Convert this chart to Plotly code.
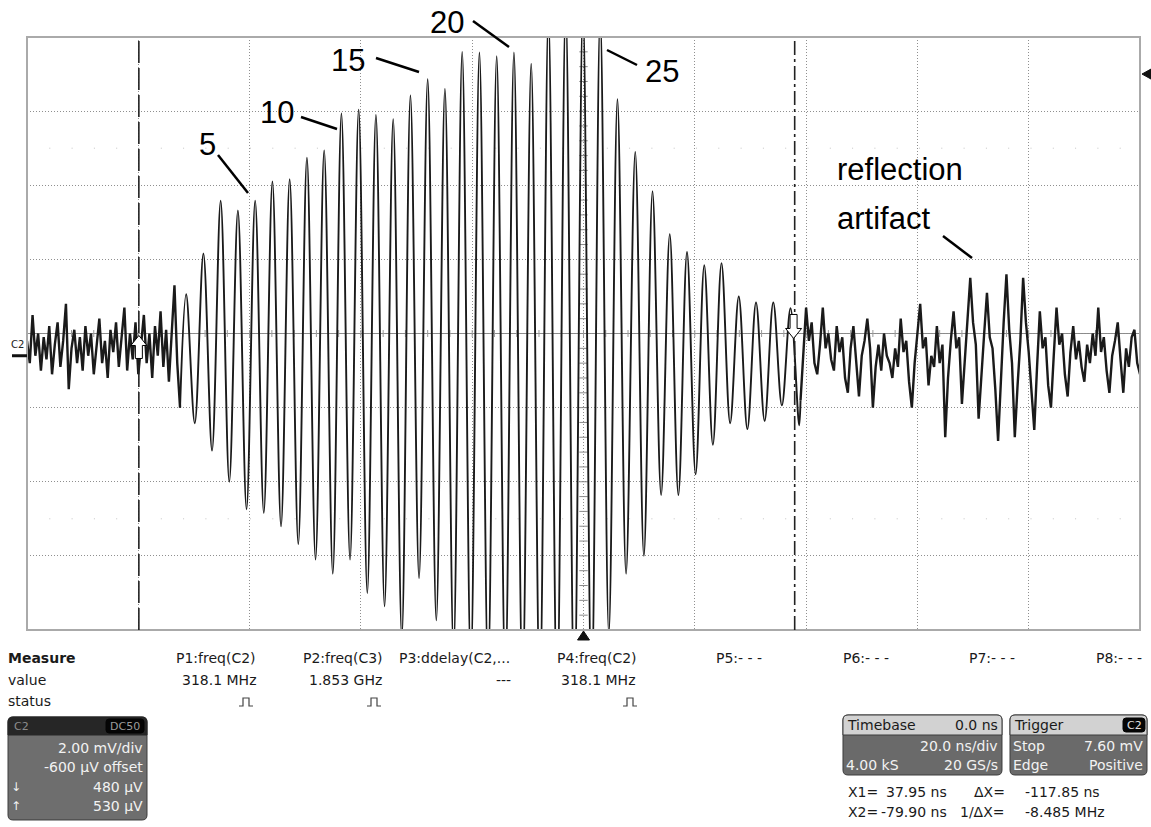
import plotly.graph_objects as go

# ---------------- data: channel C2 trace (time in ns, signal in mV) ----------------
pre_t = [-100.0, -99.5, -99.0, -98.5, -98.0, -97.5, -97.0, -96.5, -96.0, -95.5,
         -95.0, -94.5, -94.0, -93.5, -93.0, -92.5, -92.0, -91.5, -91.0, -90.5,
         -90.0, -89.5, -89.0, -88.5, -88.0, -87.5, -87.0, -86.5, -86.0, -85.5,
         -85.0, -84.5, -84.0, -83.5, -83.0, -82.5, -82.0, -81.5, -81.0, -80.5,
         -80.0, -79.5, -79.0, -78.5, -78.0, -77.5, -77.0, -76.5, -76.0, -75.5,
         -75.0, -74.5, -74.0, -73.5, -73.0, -72.5]
pre_mv = [0.4, -0.2, 1.1, 0.0, 0.6, -0.4, 0.5, -0.1, 0.8, -0.5,
          0.3, 0.9, -0.3, 0.4, 1.4, -0.9, 0.2, 0.7, -0.2, 0.5,
          -0.4, 0.8, 0.0, 0.6, -0.5, 0.3, 1.0, -0.2, 0.4, -0.6,
          0.7, 0.1, 0.9, -0.3, 0.5, 1.3, -0.4, 0.6, -0.1, 0.9,
          -0.5, 0.4, 1.1, -0.2, 0.6, -0.6, 0.8, 0.0, 1.2, -0.3,
          0.7, -0.7, 0.5, 1.9, -0.2, -1.4]

# wave packet: alternating peak / trough extremes
burst_t = [-71.4, -69.85, -68.3, -66.75, -65.2, -63.65, -62.1, -60.55, -59.0, -57.45,
           -55.9, -54.35, -52.8, -51.25, -49.7, -48.15, -46.6, -45.05, -43.5, -41.95,
           -40.4, -38.85, -37.3, -35.75, -34.2, -32.65, -31.1, -29.55, -28.0, -26.45,
           -24.9, -23.35, -21.8, -20.25, -18.7, -17.15, -15.6, -14.05, -12.5, -10.95,
           -9.4, -7.85, -6.3, -4.75, -3.2, -1.65, -0.1, 1.45, 3.0, 4.55,
           6.1, 7.65, 9.3, 10.85, 12.4, 13.95, 15.5, 17.05, 18.6, 20.15,
           21.7, 23.25, 24.8, 26.35, 27.9, 29.45, 31.0, 32.55, 34.1, 35.65,
           37.2, 38.75]
burst_mv = [1.66, -1.82, 2.76, -2.56, 4.18, -3.4, 3.92, -4.14, 4.18, -4.24,
            4.7, -4.6, 4.76, -5.08, 5.34, -5.5, 5.54, -5.88, 6.54, -5.5,
            6.64, -6.4, 6.5, -6.76, 6.38, -7.6, 7.02, -6.0, 7.46, -7.14,
            7.2, -8.0, 8.2, -8.4, 8.18, -8.6, 8.08, -8.8, 8.18, -9.0,
            7.88, -9.2, 9.2, -9.4, 9.4, -9.4, 9.4, -9.2, 9.2, -7.5,
            6.92, -5.88, 5.5, -5.4, 4.44, -3.76, 3.28, -3.76, 2.8, -3.2,
            2.44, -2.4, 2.5, -1.82, 1.6, -1.98, 1.44, -1.76, 1.44, -1.34,
            1.28, -1.88]

tail_t = [39.0, 39.5, 40.0, 40.5, 41.0, 41.5, 42.0, 42.5, 43.0, 43.5,
          44.0, 44.5, 45.0, 45.5, 46.0, 46.5, 47.0, 47.5, 48.0, 48.5,
          49.0, 49.5, 50.0, 50.5, 51.0, 51.5, 52.0, 52.5, 53.0, 53.5,
          54.0, 54.5, 55.0, 55.5, 56.0, 56.5, 57.0, 57.5, 58.0, 58.5,
          59.0, 59.5, 60.0, 60.5, 61.0, 61.5, 62.0, 62.5, 63.0, 63.5,
          64.0, 64.5, 65.0, 65.5, 66.0, 66.5, 67.0, 67.5, 68.0, 68.5,
          69.0, 69.5, 70.0, 70.5, 71.0, 71.5, 72.0, 72.5, 73.0, 73.5,
          74.0, 74.5, 75.0, 75.5, 76.0, 76.5, 77.0, 77.5, 78.0, 78.5,
          79.0, 79.5, 80.0, 80.5, 81.0, 81.5, 82.0, 82.5, 83.0, 83.5,
          84.0, 84.5, 85.0, 85.5, 86.0, 86.5, 87.0, 87.5, 88.0, 88.5,
          89.0, 89.5, 90.0, 90.5, 91.0, 91.5, 92.0, 92.5, 93.0, 93.5,
          94.0, 94.5, 95.0, 95.5, 96.0, 96.5, 97.0, 97.5, 98.0, 98.5,
          99.0, 99.5, 100.0]
tail_mv = [-1.2, 0.1, 1.3, 0.4, 0.9, -0.2, -0.5, 0.3, 1.3, 0.2,
           0.6, -0.1, -0.4, 0.8, 0.1, 0.5, -0.6, -1.0, 0.2, 0.8,
           -0.3, -1.1, 0.0, 0.4, 1.0, 0.2, -1.4, -0.3, 0.3, -0.4,
           0.6, 0.0, -0.2, -0.6, 0.2, -0.3, 1.0, 0.1, 0.4, -0.7,
           -1.4, -0.2, 0.6, 1.4, 0.2, 0.5, -0.8, 0.0, -0.3, 0.8,
           -0.2, 0.3, -2.2, -0.6, 0.4, 1.2, 0.2, 0.5, -1.3, -0.1,
           0.8, 2.1, 0.9, 0.3, -1.7, -0.4, 0.6, 1.7, 0.5, 0.2,
           -0.9, -2.3, -0.5, 0.9, 2.2, 0.7, -0.2, -2.2, -0.8, 0.4,
           2.1, 0.9, 0.1, -1.0, -2.0, -0.3, 1.2, 0.2, 0.5, -0.8,
           -1.4, 0.0, 1.3, 0.3, 0.6, -0.5, -1.1, 0.1, 0.8, -0.1,
           0.4, -0.3, -0.7, 0.3, -0.2, 0.6, 0.0, 1.3, 0.1, 0.5,
           -0.4, -1.0, 0.0, 0.4, 0.9, -0.1, -1.0, 0.2, -0.3, 0.5,
           0.7, -0.2, -0.5]

peak_labels = ["5", "10", "15", "20", "25"]
cursor_x1_ns = 37.95
cursor_x2_ns = -79.90
trigger_level_mv = 7.60
offset_mv = -0.60
volts_per_div_mv = 2.0
time_per_div_ns = 20.0

measure_heads = ["P1:freq(C2)", "P2:freq(C3)", "P3:ddelay(C2,...", "P4:freq(C2)",
                 "P5:- - -", "P6:- - -", "P7:- - -", "P8:- - -"]
measure_values = ["318.1 MHz", "1.853 GHz", "---", "318.1 MHz"]

# ---------------- layout helpers (pixel -> paper) ----------------
W, H = 1151, 827
PL, PR, PT, PB = 27, 1140, 37, 630


def px(X):
    return (X - PL) / (PR - PL)


def py(Y):
    return (PB - Y) / (PB - PT)


center_mv = -offset_mv
y_lo = center_mv - 4 * volts_per_div_mv
y_hi = center_mv + 4 * volts_per_div_mv

fig = go.Figure()

# centre rulers (minor ticks, 1/5 division)
ruler_y = [center_mv + k * volts_per_div_mv / 5 for k in range(-20, 21)]
ruler_x = [k * time_per_div_ns / 5 for k in range(-25, 26)]
fig.add_trace(go.Scatter(x=[0] * len(ruler_y), y=ruler_y, mode="markers",
                         marker=dict(symbol="line-ew", size=6, line=dict(width=1, color="#8a8a8a")),
                         hoverinfo="skip"))
fig.add_trace(go.Scatter(x=ruler_x, y=[center_mv] * len(ruler_x), mode="markers",
                         marker=dict(symbol="line-ns", size=5, line=dict(width=1, color="#9a9a9a")),
                         hoverinfo="skip"))

TRACE = "#1a1a1a"
# noise before the burst
fig.add_trace(go.Scatter(x=pre_t, y=pre_mv, mode="lines",
                         line=dict(color=TRACE, width=2.4), hoverinfo="skip"))
# burst (smooth through the extremes)
fig.add_trace(go.Scatter(x=[pre_t[-1]] + burst_t + [tail_t[0]],
                         y=[pre_mv[-1]] + burst_mv + [tail_mv[0]], mode="lines",
                         line=dict(color=TRACE, width=1.9, shape="spline", smoothing=1.0),
                         hoverinfo="skip"))
# tail with reflection
fig.add_trace(go.Scatter(x=tail_t, y=tail_mv, mode="lines",
                         line=dict(color=TRACE, width=2.4), hoverinfo="skip"))

shapes = []
annotations = []

# centre horizontal line
shapes.append(dict(type="line", xref="paper", yref="y", x0=0, x1=1, y0=center_mv, y1=center_mv,
                   line=dict(color="#8a8a8a", width=1), layer="below"))
# faint sub-division dot rows
for d in (2.5, -2.5):
    yv = center_mv + d * volts_per_div_mv
    shapes.append(dict(type="line", xref="paper", yref="y", x0=0, x1=1, y0=yv, y1=yv,
                       line=dict(color="#c4c4c4", width=1, dash="1px,21.3px"), layer="below"))
# plot border
shapes.append(dict(type="rect", xref="paper", yref="paper", x0=0, x1=1, y0=0, y1=1,
                   line=dict(color="#aaaaaa", width=2), layer="above"))
# cursors
shapes.append(dict(type="line", xref="x", yref="paper", x0=cursor_x2_ns, x1=cursor_x2_ns, y0=0, y1=1,
                   line=dict(color="#222222", width=1.6, dash="22px,5px")))
shapes.append(dict(type="line", xref="x", yref="paper", x0=cursor_x1_ns, x1=cursor_x1_ns, y0=0, y1=1,
                   line=dict(color="#222222", width=1.6, dash="14px,4px,3px,4px")))


def pix_path(xa, ya, pts, xref, yref, fill, line="#000000", close=True, lw=1):
    p = "M " + " L ".join(f"{a},{b}" for a, b in pts) + (" Z" if close else "")
    return dict(type="path", xref=xref, yref=yref, xsizemode="pixel", ysizemode="pixel",
                xanchor=xa, yanchor=ya, path=p, fillcolor=fill,
                line=dict(color=line, width=lw), layer="above")


# cursor arrows
shapes.append(pix_path(cursor_x2_ns, 0.25,
                       [(0, 11), (-8, 1), (-3.5, 1), (-3.5, -12), (3.5, -12), (3.5, 1), (8, 1)],
                       "x", "y", "white"))
shapes.append(pix_path(cursor_x1_ns - 0.2, 0.79,
                       [(0, -12), (-8, -2), (-3.5, -2), (-3.5, 12), (3.5, 12), (3.5, -2), (8, -2)],
                       "x", "y", "white"))
# trigger position (bottom) and trigger level (right)
shapes.append(pix_path(0, 0, [(0, -1), (-6, -10), (6, -10)], "x", "paper", "#111111", "#111111"))
shapes.append(pix_path(1, trigger_level_mv, [(2, 0), (11, 5), (11, -5)], "paper", "y", "#111111", "#111111"))
# channel ground marker
shapes.append(dict(type="line", xref="paper", yref="y", x0=px(12), x1=px(27), y0=0, y1=0,
                   line=dict(color="#111111", width=3)))
annotations.append(dict(x=px(17), y=py(344), xref="paper", yref="paper", text="C2", showarrow=False,
                        font=dict(family="DejaVu Sans", size=10, color="#222"),
                        xanchor="center", yanchor="middle"))

# ------------- callout labels -------------
LBL = dict(family="Liberation Sans, Arial", size=31, color="#000000")
label_pos = [(207, 144), (277, 113), (348, 61), (447, 23), (662, 71)]
for s, (X, Y) in zip(peak_labels, label_pos):
    annotations.append(dict(x=px(X), y=py(Y), xref="paper", yref="paper", text=s, showarrow=False,
                            font=LBL, xanchor="center", yanchor="middle"))
annotations.append(dict(x=px(835), y=py(170), xref="paper", yref="paper", text="reflection",
                        showarrow=False, font=LBL, xanchor="left", yanchor="middle"))
annotations.append(dict(x=px(835), y=py(219), xref="paper", yref="paper", text="artifact",
                        showarrow=False, font=LBL, xanchor="left", yanchor="middle"))
leaders = [((218, 155), (248, 193)), ((301, 117), (337, 129)), ((376, 58), (419, 72)),
           ((473, 21), (509, 47)), ((607, 50), (637, 65)), ((943, 236), (972, 258))]
for (xa, ya), (xb, yb) in leaders:
    shapes.append(dict(type="line", xref="paper", yref="paper", x0=px(xa), y0=py(ya), x1=px(xb), y1=py(yb),
                       line=dict(color="#000000", width=2.5)))

# ------------- measurement table -------------
F = "DejaVu Sans"


def txt(X, Y, s, anchor="left", size=14, color="#1a1a1a"):
    annotations.append(dict(x=px(X), y=py(Y), xref="paper", yref="paper", text=s, showarrow=False,
                            xanchor=anchor, yanchor="middle",
                            font=dict(family=F, size=size, color=color)))


txt(6, 658, "<b>Measure</b>")
txt(6, 680, "value")
txt(6, 701, "status")
head_x = [174, 301, 397, 555, 714, 841, 967, 1094]
for s, X in zip(measure_heads, head_x):
    txt(X, 658, s)
val_x = [258, 384, 513, 637]
for s, X in zip(measure_values, val_x):
    txt(X, 680, s, anchor="right")
for X in (246, 374, 630):
    shapes.append(pix_path(px(X), py(702), [(-7, -4), (-3, -4), (-3, 4), (3, 4), (3, -4), (7, -4)],
                           "paper", "paper", "rgba(0,0,0,0)", "#444444", close=False, lw=1.2))


def rrect(X0, Y0, X1, Y1, rt, rb):
    pts = [("M", X0 + rt, Y0), ("L", X1 - rt, Y0), ("Q", X1, Y0, X1, Y0 + rt), ("L", X1, Y1 - rb),
           ("Q", X1, Y1, X1 - rb, Y1), ("L", X0 + rb, Y1), ("Q", X0, Y1, X0, Y1 - rb),
           ("L", X0, Y0 + rt), ("Q", X0, Y0, X0 + rt, Y0)]
    out = []
    for seg in pts:
        c = seg[0]
        nums = seg[1:]
        coords = []
        for i in range(0, len(nums), 2):
            coords.append(f"{px(nums[i]):.5f},{py(nums[i + 1]):.5f}")
        out.append(c + " " + " ".join(coords))
    return " ".join(out) + " Z"


def box(X0, Y0, X1, Y1, rt, rb, fill, line="#3a3a3a"):
    shapes.append(dict(type="path", xref="paper", yref="paper", path=rrect(X0, Y0, X1, Y1, rt, rb),
                       fillcolor=fill, line=dict(color=line, width=1), layer="above"))


# C2 channel box
box(8, 717, 147, 820, 5, 5, "#6e6e6e", "#3c3c3c")
box(8, 717, 147, 735, 5, 0, "#262626", "#262626")
box(106, 719, 144, 733, 3, 3, "#050505", "#050505")
txt(12, 726, "C2", size=11, color="#8c8c8c")
txt(125, 726, "DC50", anchor="center", size=11, color="#9a9a9a")
txt(145, 748, "2.00 mV/div", anchor="right", color="#f2f2f2")
txt(145, 767, "-600 µV offset", anchor="right", color="#f2f2f2")
txt(145, 787, "480 µV", anchor="right", color="#f2f2f2")
txt(145, 806, "530 µV", anchor="right", color="#f2f2f2")
txt(9, 787, "↓", size=12, color="#f2f2f2")
txt(9, 806, "↑", size=12, color="#f2f2f2")

# Timebase box
box(843, 715, 1002, 775, 5, 5, "#6a6a6a", "#3c3c3c")
box(843, 715, 1002, 735, 5, 0, "#d2d2d2", "#3c3c3c")
txt(845, 725, "Timebase")
txt(1000, 725, "0.0 ns", anchor="right")
txt(1000, 746, "20.0 ns/div", anchor="right", color="#f2f2f2")
txt(844, 765, "4.00 kS", color="#f2f2f2")
txt(1000, 765, "20 GS/s", anchor="right", color="#f2f2f2")

# Trigger box
box(1010, 715, 1147, 775, 5, 5, "#6a6a6a", "#3c3c3c")
box(1010, 715, 1147, 735, 5, 0, "#d2d2d2", "#3c3c3c")
box(1123, 718, 1145, 732, 3, 3, "#050505", "#050505")
txt(1012, 725, "Trigger")
txt(1134, 725, "C2", anchor="center", size=11, color="#e0e0e0")
txt(1011, 746, "Stop", color="#f2f2f2")
txt(1145, 746, "7.60 mV", anchor="right", color="#f2f2f2")
txt(1011, 765, "Edge", color="#f2f2f2")
txt(1145, 765, "Positive", anchor="right", color="#f2f2f2")

# cursor readouts
txt(846, 792, "X1=")
txt(949, 792, "37.95 ns", anchor="right")
txt(1007, 792, "ΔX=", anchor="right")
txt(1023, 792, "-117.85 ns")
txt(846, 812, "X2=")
txt(949, 812, "-79.90 ns", anchor="right")
txt(1007, 812, "1/ΔX=", anchor="right")
txt(1023, 812, "-8.485 MHz")

fig.update_layout(
    width=W, height=H,
    margin=dict(l=PL, r=W - PR, t=PT, b=H - PB, pad=0),
    paper_bgcolor="white", plot_bgcolor="white",
    showlegend=False,
    shapes=shapes, annotations=annotations,
    xaxis=dict(range=[-5 * time_per_div_ns, 5 * time_per_div_ns], tick0=0, dtick=time_per_div_ns,
               showgrid=True, gridcolor="#8f8f8f", gridwidth=1, griddash="1px,2px",
               showticklabels=False, ticks="", zeroline=False, showline=False, fixedrange=True),
    yaxis=dict(range=[y_lo, y_hi], tick0=center_mv, dtick=volts_per_div_mv,
               showgrid=True, gridcolor="#8f8f8f", gridwidth=1, griddash="1px,2px",
               showticklabels=False, ticks="", zeroline=False, showline=False, fixedrange=True),
)

fig.write_html("out.html", config={"displayModeBar": False},
               post_script="document.body.style.margin='0px';document.body.style.overflow='hidden';")
